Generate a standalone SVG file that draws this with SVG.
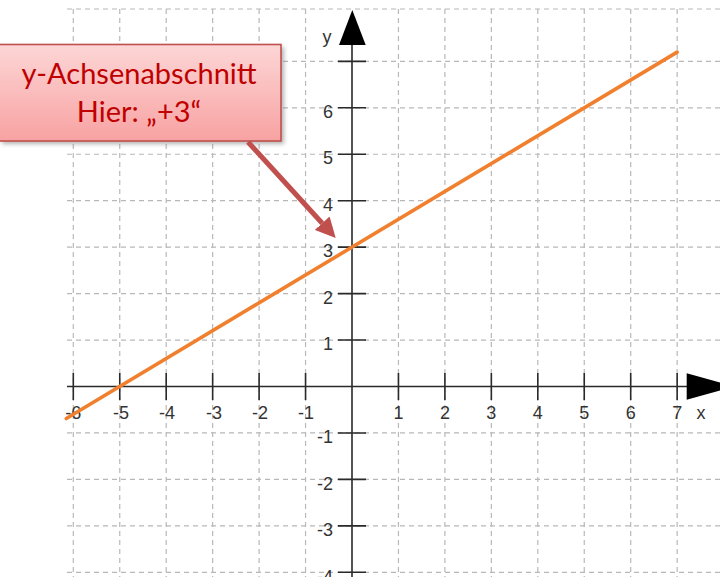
<svg xmlns="http://www.w3.org/2000/svg" width="720" height="577" viewBox="0 0 720 577">
<style>
.grid{stroke:#b8b8b8;stroke-width:1.2;stroke-dasharray:5 4;fill:none}
.axis{stroke:#2a2a2a;stroke-width:1.6;fill:none}
.tick{stroke:#2a2a2a;stroke-width:1.6}
.lbl{font-family:"Liberation Sans",Arial,sans-serif;font-size:18px;fill:#333}
.xl{text-anchor:middle}
.yl{text-anchor:end}
.call{font-family:Lato,"Open Sans",sans-serif;font-size:29px;fill:#c00000;text-anchor:middle}
</style>
<defs>
<linearGradient id="pink" x1="0" y1="0" x2="0" y2="1">
<stop offset="0" stop-color="#fdd6d6"/>
<stop offset="1" stop-color="#f8a2a2"/>
</linearGradient>
<filter id="sh" x="-10%" y="-20%" width="130%" height="150%">
<feGaussianBlur stdDeviation="2"/>
</filter>
<marker id="ah" markerUnits="userSpaceOnUse" markerWidth="20" markerHeight="20" viewBox="0 0 16 16" refX="0" refY="8" orient="auto">
<path d="M0,0 L16,8 L0,16 Z" fill="#c0504d"/>
</marker>
</defs>
<rect width="720" height="577" fill="#fff"/>
<g id="grid">
<path class="grid" d="M67,9H720 M67,61.35H720 M67,107.8H720 M67,154.25H720 M67,200.7H720 M67,247.15H720 M67,293.6H720 M67,340.05H720 M67,432.95H720 M67,479.4H720 M67,525.85H720 M67,572.3H720"/>
<path class="grid" d="M73.3,9V577 M119.75,9V577 M166.2,9V577 M212.65,9V577 M259.1,9V577 M305.55,9V577 M398.45,9V577 M444.9,9V577 M491.35,9V577 M537.8,9V577 M584.25,9V577 M630.7,9V577 M677.15,9V577"/>
</g>
<g id="axes">
<path class="axis" d="M67,386.5H690 M352,577V40"/>
<polygon points="686.7,373.3 735,386.5 686.7,399.7" fill="#000"/>
<polygon points="339,45 352.3,10 365.7,45" fill="#000"/>
<path class="tick" d="M73.3,373V400 M119.75,373V400 M166.2,373V400 M212.65,373V400 M259.1,373V400 M305.55,373V400 M398.45,373V400 M444.9,373V400 M491.35,373V400 M537.8,373V400 M584.25,373V400 M630.7,373V400 M677.15,373V400"/>
<path class="tick" d="M338,61.35H366 M338,107.8H366 M338,154.25H366 M338,200.7H366 M338,247.15H366 M338,293.6H366 M338,340.05H366 M338,432.95H366 M338,479.4H366 M338,525.85H366 M338,572.3H366"/>
<g class="lbl xl">
<text x="73.3" y="418.5">-6</text>
<text x="121" y="418.5">-5</text>
<text x="167" y="418.5">-4</text>
<text x="214" y="418.5">-3</text>
<text x="260" y="418.5">-2</text>
<text x="306" y="418.5">-1</text>
<text x="398.45" y="418.5">1</text>
<text x="444.9" y="418.5">2</text>
<text x="491.35" y="418.5">3</text>
<text x="537.8" y="418.5">4</text>
<text x="584.25" y="418.5">5</text>
<text x="630.7" y="418.5">6</text>
<text x="677.15" y="418.5">7</text>
<text x="701" y="418.5">x</text>
<text x="327" y="43">y</text>
</g>
<g class="lbl yl">
<text x="333" y="117.5">6</text>
<text x="333" y="164">5</text>
<text x="333" y="210.5">4</text>
<text x="333" y="257">3</text>
<text x="333" y="303.5">2</text>
<text x="333" y="350">1</text>
<text x="333" y="443">-1</text>
<text x="333" y="489.5">-2</text>
<text x="333" y="536">-3</text>
<text x="333" y="582.5">-4</text>
</g>
</g>
<g id="graph">
<line x1="66.3" y1="418.5" x2="677.15" y2="52.1" stroke="#f0802e" stroke-width="3.6" stroke-linecap="round"/>
</g>
<g id="callout">
<rect x="2" y="47" width="282" height="97" fill="#777" opacity="0.55" filter="url(#sh)"/>
<rect x="-2" y="44.5" width="283" height="96.5" fill="url(#pink)" stroke="#c0504d" stroke-width="1.6"/>
<text class="call" x="139" y="84">y-Achsenabschnitt</text>
<text class="call" x="139" y="122">Hier: „+3“</text>
</g>
<g id="connectors">
<line x1="248" y1="142" x2="322.2" y2="223.2" stroke="#c0504d" stroke-width="5" marker-end="url(#ah)"/>
</g>
</svg>
